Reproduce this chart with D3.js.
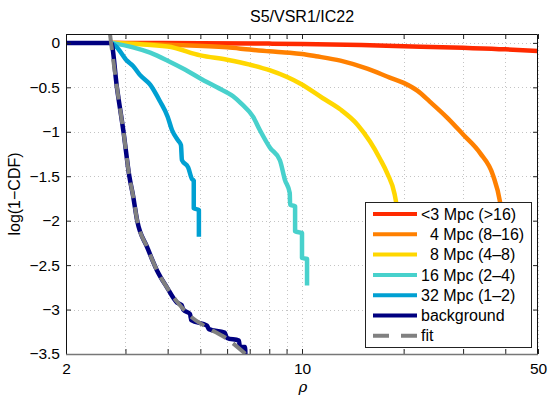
<!DOCTYPE html>
<html><head><meta charset="utf-8">
<script src="https://cdn.jsdelivr.net/npm/d3@7"></script>
<style>
body{margin:0;background:#fff;}
text{font-family:"Liberation Sans",Arial,sans-serif;}
</style></head>
<body><svg id="c" width="553" height="397"></svg>
<script>
const title = "S5/VSR1/IC22";
const xLabel = "ρ";
const yLabel = "log(1−CDF)";
const xMajorTicks = [2, 10, 50];
const xMinorTicks = [3, 4, 5, 6, 7, 8, 9, 20, 30, 40];
const yTicks = [0, -0.5, -1, -1.5, -2, -2.5, -3, -3.5];

const seriesNames = ["<3 Mpc (>16)", "  4 Mpc (8–16)", "  8 Mpc (4–8)", "16 Mpc (2–4)", "32 Mpc (1–2)", "background", "fit"];
const seriesColors = ["#ff2a00", "#ff8000", "#ffd700", "#48d1cc", "#00a0d2", "#000080", "#808080"];

const redRho = [2.72, 5, 8, 10, 15, 20, 30, 40, 50];
const redVal = [0, -0.003, -0.008, -0.012, -0.025, -0.038, -0.056, -0.072, -0.092];

const orangeRho = [2.72, 4, 6, 7, 8, 9.2, 10, 11, 13, 15.6, 18.2, 20, 22, 23.9, 26.9, 30, 33.7, 36.8, 38.6, 39.3];
const orangeVal = [0, -0.02, -0.05, -0.075, -0.095, -0.11, -0.125, -0.15, -0.2, -0.29, -0.39, -0.45, -0.54, -0.66, -0.84, -1.03, -1.24, -1.49, -1.79, -2.0];

const yellowRho = [2.72, 4, 5, 6, 7, 8.05, 9.9, 11.5, 13, 14.6, 15.9, 17, 17.9, 18.8, 19.1, 19.3];
const yellowVal = [0, -0.04, -0.14, -0.19, -0.245, -0.31, -0.46, -0.62, -0.75, -0.92, -1.11, -1.3, -1.47, -1.7, -1.85, -2.0];

const turqRho = [2.72, 3.16, 3.55, 4, 4.5, 5, 5.6, 6.25, 6.6, 7.16, 7.5, 8.04, 8.6, 8.9, 9.2, 9.22, 9.54, 9.54, 10.0, 10.0, 10.35, 10.35];
const turqVal = [0, -0.05, -0.11, -0.2, -0.3, -0.4, -0.5, -0.6, -0.68, -0.83, -0.98, -1.18, -1.32, -1.54, -1.69, -1.82, -1.84, -2.12, -2.14, -2.42, -2.43, -2.73];

const blueRho = [2.72, 2.83, 3.03, 3.16, 3.31, 3.55, 3.8, 4.0, 4.12, 4.3, 4.38, 4.41, 4.6, 4.72, 4.78, 4.78, 4.95, 4.95];
const blueVal = [0, -0.05, -0.2, -0.26, -0.36, -0.47, -0.66, -0.83, -0.98, -1.1, -1.15, -1.32, -1.4, -1.53, -1.55, -1.86, -1.88, -2.18];

const bgRho = [2.0, 2.72, 2.83, 2.96, 3.08, 3.16, 3.25, 3.48, 3.72, 3.98, 4.26, 4.4, 4.45, 4.66, 4.7, 5.23, 5.3, 5.9, 6.0, 6.5, 6.55, 6.78, 6.8];
const bgVal = [0, 0, -0.5, -1.0, -1.5, -1.72, -2.0, -2.3, -2.56, -2.75, -2.92, -2.95, -3.0, -3.05, -3.12, -3.18, -3.22, -3.26, -3.32, -3.35, -3.42, -3.42, -3.52];

const fitRho = [2.70, 2.72, 2.83, 2.96, 3.08, 3.16, 3.25, 3.48, 3.72, 3.98, 4.26, 4.66, 5.23, 6.0, 6.9];
const fitVal = [0.1, 0, -0.5, -1.0, -1.5, -1.72, -2.0, -2.3, -2.56, -2.75, -2.91, -3.07, -3.2, -3.33, -3.52];

const L = 66, R = 538, T = 34, B = 354;
const FS = 16;
const svg = d3.select("#c");
const x = d3.scaleLog().domain([2, 50]).range([L, R]);
const y = d3.scaleLinear().domain([-3.5, 0.1]).range([B, T]);

// grid
const grid = svg.append("g").attr("stroke", "#c4c4c4").attr("stroke-dasharray", "1,3").attr("stroke-width", 1);
xMajorTicks.concat(xMinorTicks).forEach(v => {
  grid.append("line").attr("x1", Math.round(x(v)) + 0.5).attr("x2", Math.round(x(v)) + 0.5).attr("y1", T).attr("y2", B);
});
yTicks.forEach(v => {
  grid.append("line").attr("x1", L).attr("x2", R).attr("y1", Math.round(y(v)) + 0.5).attr("y2", Math.round(y(v)) + 0.5);
});

svg.append("defs").append("clipPath").attr("id", "clip").append("rect")
  .attr("x", L).attr("y", T).attr("width", R - L).attr("height", B - T);

const line = d3.line().x(d => x(d[0])).y(d => y(d[1])).curve(d3.curveMonotoneX);
const series = [
  [redRho, redVal], [orangeRho, orangeVal], [yellowRho, yellowVal],
  [turqRho, turqVal], [blueRho, blueVal], [bgRho, bgVal]
];
const plot = svg.append("g").attr("clip-path", "url(#clip)");
series.forEach((s, i) => {
  const pts = s[0].map((r, j) => [r, s[1][j]]);
  plot.append("path").attr("d", line(pts)).attr("fill", "none")
    .attr("stroke", seriesColors[i]).attr("stroke-width", 4.5)
    .attr("stroke-linejoin", "round").attr("stroke-linecap", "butt");
});
plot.append("path").attr("d", line(fitRho.map((r, j) => [r, fitVal[j]])))
  .attr("fill", "none").attr("stroke", seriesColors[6]).attr("stroke-width", 4)
  .attr("stroke-dasharray", "16,9");

// axes
const fmt = d => d === 0 ? "0" : String(d).replace("-", "−");
const ax = svg.append("g");
ax.append("g").attr("transform", `translate(0,${B})`)
  .call(d3.axisBottom(x).tickValues(xMajorTicks).tickSize(-5).tickPadding(9).tickFormat(d => d));
ax.append("g").attr("transform", `translate(0,${B})`)
  .call(d3.axisBottom(x).tickValues(xMinorTicks).tickSize(-5).tickFormat(""));
ax.append("g").attr("transform", `translate(0,${T})`)
  .call(d3.axisTop(x).tickValues(xMajorTicks.concat(xMinorTicks)).tickSize(-5).tickFormat(""));
ax.append("g").attr("transform", `translate(${L},0)`)
  .call(d3.axisLeft(y).tickValues(yTicks).tickSize(-5).tickPadding(6).tickFormat(fmt));
ax.append("g").attr("transform", `translate(${R},0)`)
  .call(d3.axisRight(y).tickValues(yTicks).tickSize(-5).tickFormat(""));
ax.selectAll(".domain").remove();
ax.selectAll(".tick line").attr("stroke", "#222");
ax.selectAll(".tick text").attr("font-size", 15.5).attr("fill", "#000")
  .style("font-family", '"Liberation Sans",Arial,sans-serif');
svg.append("path").attr("d", `M${L + 0.5},${B}V${T + 0.5}H${R - 0.5}V${B}`)
  .attr("fill", "none").attr("stroke", "#111").attr("stroke-width", 1);
svg.append("line").attr("x1", L).attr("x2", R).attr("y1", B + 0.5).attr("y2", B + 0.5)
  .attr("stroke", "#777").attr("stroke-width", 1.5);

// labels
svg.append("text").attr("x", (L + R) / 2).attr("y", 22).attr("text-anchor", "middle")
  .attr("font-size", FS).text(title);
svg.append("text").attr("x", (L + R) / 2 + 1).attr("y", 391.5).attr("text-anchor", "middle")
  .attr("font-size", 15).attr("font-style", "italic").style("font-family", '"DejaVu Serif",serif').text(xLabel);
svg.append("text").attr("transform", `translate(20,${(T + B) / 2}) rotate(-90)`)
  .attr("text-anchor", "middle").attr("font-size", FS).text(yLabel);

// legend
const lg = svg.append("g");
lg.append("rect").attr("x", 365.5).attr("y", 202.5).attr("width", 166).attr("height", 145)
  .attr("fill", "#fff").attr("stroke", "#222").attr("stroke-width", 1);
seriesNames.forEach((n, i) => {
  const cy = 214 + i * 20.3;
  lg.append("line").attr("x1", 373).attr("x2", 417).attr("y1", cy).attr("y2", cy)
    .attr("stroke", seriesColors[i]).attr("stroke-width", 4)
    .attr("stroke-dasharray", i === 6 ? "16,12" : null);
  lg.append("text").attr("x", 421).attr("y", cy + 5.6).attr("font-size", FS)
    .style("white-space", "pre").attr("xml:space", "preserve").text(n);
});
</script></body></html>
